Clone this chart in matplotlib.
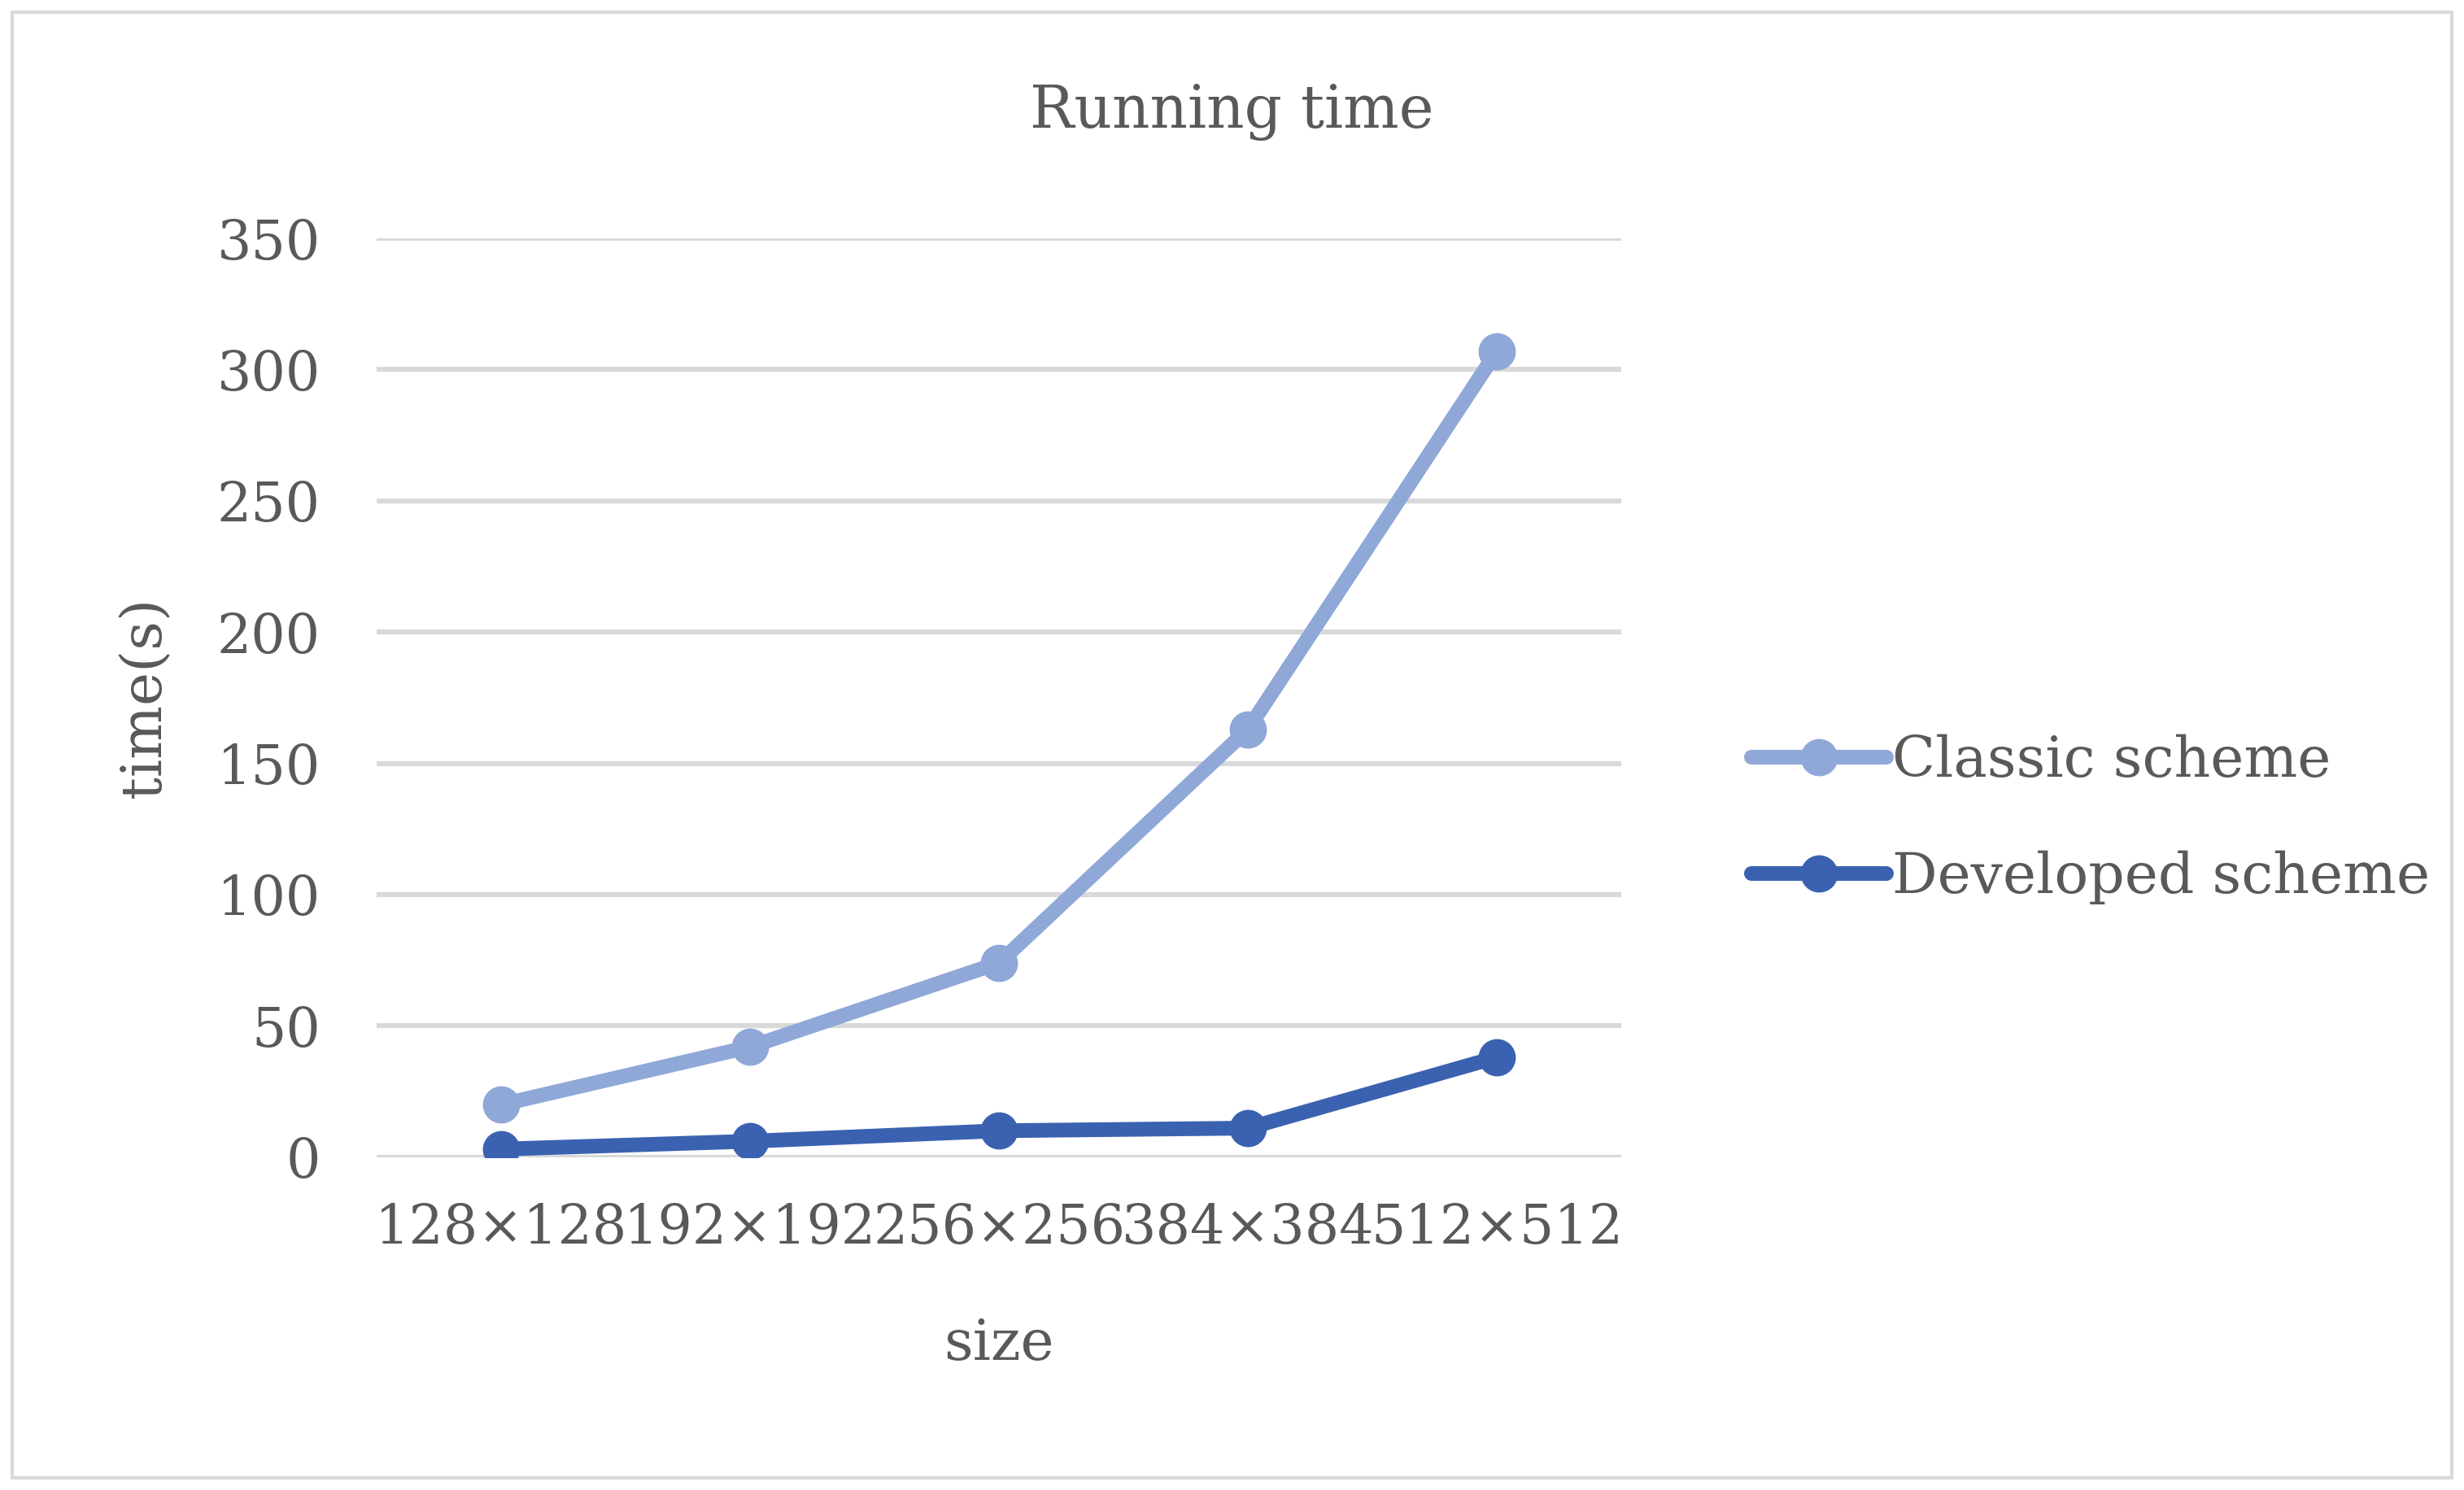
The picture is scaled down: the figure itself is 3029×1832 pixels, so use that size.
import matplotlib
matplotlib.use("Agg")
import matplotlib.pyplot as plt
from matplotlib.patches import Rectangle

categories = ["128×128", "192×192", "256×256", "384×384", "512×512"]
classic = [20, 42, 74, 163, 307]
developed = [3, 6, 10, 11, 38]
yticks = [0, 50, 100, 150, 200, 250, 300, 350]

plt.rcParams['font.family'] = ['DejaVu Serif']
fig = plt.figure(figsize=(30.29, 18.32), dpi=100)
fig.patches.append(Rectangle((0.005, 0.008), 0.99, 0.984, transform=fig.transFigure,
                             fill=False, edgecolor='#D9D9D9', linewidth=3))
ax = fig.add_axes([0.153, 0.2235, 0.505, 0.6165])
x = list(range(len(categories)))
ax.plot(x, classic, color='#8FA8D8', lw=13, marker='o', ms=32, label='Classic scheme',
        solid_capstyle='round')
ax.plot(x, developed, color='#3A62B0', lw=13, marker='o', ms=32, label='Developed scheme',
        solid_capstyle='round')
ax.set_xlim(-0.5, 4.5)
ax.set_ylim(0, 350)
ax.set_yticks(yticks)
ax.set_xticks(x)
ax.set_xticklabels(categories)
ax.grid(axis='y', color='#D9D9D9', lw=4.5)
ax.set_axisbelow(True)
for s in ax.spines.values():
    s.set_visible(False)
ax.tick_params(length=0, labelsize=48, colors='#595959', pad=40)
ax.tick_params(axis='y', pad=50)
ax.set_xlabel('size', fontsize=50, color='#595959', labelpad=55)
ax.set_ylabel('time(s)', fontsize=50, color='#595959', labelpad=40)
fig.text(0.5, 0.925, 'Running time', ha='center', va='center', fontsize=52, color='#595959')
leg = fig.legend(loc='center left', bbox_to_anchor=(0.69, 0.45), frameon=False,
                 fontsize=50, labelcolor='#595959', handlelength=2.4, handletextpad=0.1,
                 labelspacing=1.1)
fig.savefig('out.png', dpi=100)
